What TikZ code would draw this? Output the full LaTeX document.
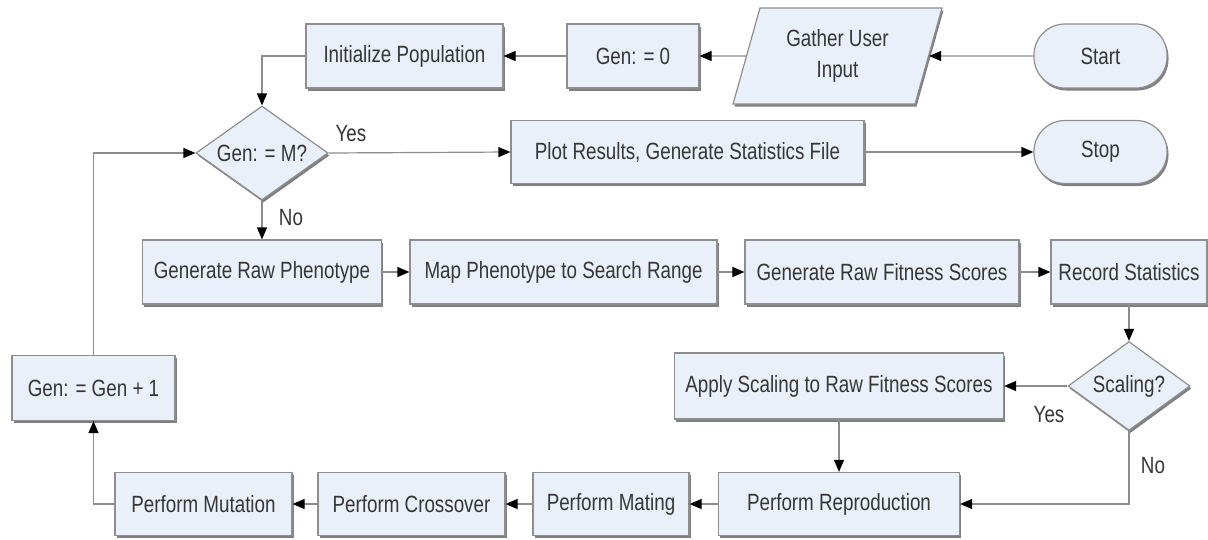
\documentclass[tikz,border=0pt]{standalone}
\usepackage{fontspec}
\setmainfont{Liberation Sans}[FakeStretch = 0.8]
\usetikzlibrary{shapes.geometric, arrows.meta, shadows}
\definecolor{boxfill}{HTML}{EAF0F9}
\definecolor{boxline}{HTML}{8E8E8E}
\definecolor{wire}{HTML}{8C8C8C}
\definecolor{ink}{HTML}{363636}

\begin{document}
\begin{tikzpicture}[x = 1pt, y = -1pt,
    every node/.style = { font = \fontsize{23.5}{31}\selectfont, text = ink },
    box/.style = { draw = boxline, fill = boxfill, line width = 1.2pt, minimum height = 64pt,
      drop shadow = {shadow xshift=1.5pt,shadow yshift=-2.5pt,fill=black,opacity=0.5} },
    proc/.style = { box, shape = rectangle },
    term/.style = { box, shape = rectangle, rounded corners = 31pt, minimum width = 133pt },
    decision/.style = { box, shape = diamond, inner sep = 0pt, aspect = 1.4 },
    io/.style = { box, shape = trapezium, trapezium left angle = 72, trapezium right angle = 108,
      trapezium stretches = true, align = center, inner sep = 2pt },
    flow/.style = { draw = wire, line width = 1.2pt, -{Triangle[length = 12pt, width = 10pt, color = black]} },
    lbl/.style = { inner sep = 0pt }
  ]
  \useasboundingbox (0,0) rectangle (1208,539);

  \node [term] (start) at (1100.5,56) { Start };
  \node [io, minimum width = 209pt, minimum height = 96pt] (gather) at (837.5,56) { Gather User \\ Input };
  \node [proc, minimum width = 132pt] (genzero) at (633,56) { Gen: = 0 };
  \node [proc, minimum width = 197pt] (init) at (404.5,56) { Initialize Population };

  \node [decision, minimum width = 132pt, minimum height = 94pt] (genm) at (262,153) { Gen: = M? };
  \node [proc, minimum width = 353pt, minimum height = 63pt] (plot) at (687.5,152) { Plot Results, Generate Statistics File };
  \node [term, minimum height = 63pt] (stop) at (1100.5,152) { Stop };

  \node [proc, minimum width = 239pt] (rawpheno) at (262,272) { Generate Raw Phenotype };
  \node [proc, minimum width = 307pt] (mappheno) at (563.5,272) { Map Phenotype to Search Range };
  \node [proc, minimum width = 274pt] (rawfit) at (882,272) { Generate Raw Fitness Scores };
  \node [proc, minimum width = 156pt] (record) at (1129,272) { Record Statistics };

  \node [decision, minimum width = 122pt, minimum height = 89pt] (scaling) at (1129,386) { Scaling? };
  \node [proc, minimum width = 329pt, minimum height = 66pt] (apply) at (839,386) { Apply Scaling to Raw Fitness Scores };
  \node [proc, minimum width = 163pt, minimum height = 65pt] (geninc) at (93.5,388) { Gen: = Gen + 1 };

  \node [proc, minimum width = 241pt, minimum height = 63pt] (repro) at (839,504) { Perform Reproduction };
  \node [proc, minimum width = 156pt, minimum height = 63pt] (mating) at (611,504) { Perform Mating };
  \node [proc, minimum width = 187pt, minimum height = 63pt] (cross) at (411.5,504) { Perform Crossover };
  \node [proc, minimum width = 177pt, minimum height = 63pt] (mutation) at (203.5,504) { Perform Mutation };

  \node [lbl] (yesgen) at (351,134) { Yes };
  \node [lbl] (nogen) at (291,218) { No };
  \node [lbl] (yesscale) at (1049,415) { Yes };
  \node [lbl] (noscale) at (1153,466) { No };

  \draw [flow] (start.west) -- (gather.east);
  \draw [flow] (gather.west) -- (genzero.east);
  \draw [flow] (genzero.west) -- (init.east);
  \draw [flow] (init.west) -| (genm.north);
  \draw [flow] (genm.east) -- (plot.west);
  \draw [flow] (plot.east) -- (stop.west);
  \draw [flow] (genm.south) -- (rawpheno.north);
  \draw [flow] (rawpheno.east) -- (mappheno.west);
  \draw [flow] (mappheno.east) -- (rawfit.west);
  \draw [flow] (rawfit.east) -- (record.west);
  \draw [flow] (record.south) -- (scaling.north);
  \draw [flow] (scaling.west) -- (apply.east);
  \draw [flow] (scaling.south) |- (repro.east);
  \draw [flow] (apply.south) -- (repro.north);
  \draw [flow] (repro.west) -- (mating.east);
  \draw [flow] (mating.west) -- (cross.east);
  \draw [flow] (cross.west) -- (mutation.east);
  \draw [flow] (mutation.west) -| (geninc.south);
  \draw [flow] (geninc.north) |- (genm.west);
\end{tikzpicture}
\end{document}
